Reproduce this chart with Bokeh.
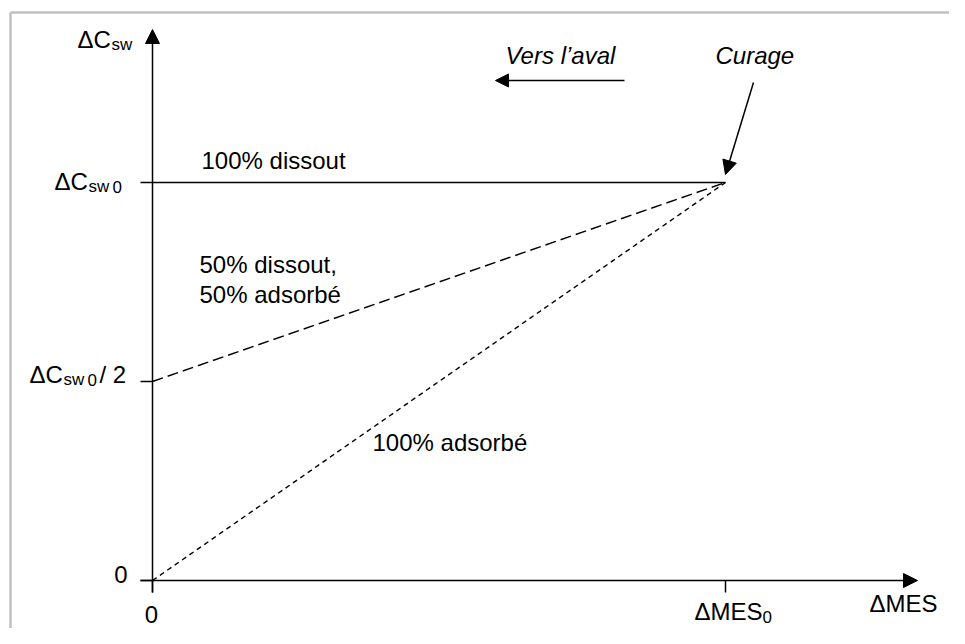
from bokeh.plotting import figure
from bokeh.models import Arrow, NormalHead, Range1d
from bokeh.core.properties import value
from bokeh.embed import file_html
from bokeh.resources import INLINE

# ---- data (normalised: ΔMES0 = 1, ΔCsw0 = 1) ----
mes = [0.0, 1.0]
c_dissout = [1.0, 1.0]        # 100% dissout
c_mixed = [0.5, 1.0]          # 50% dissout, 50% adsorbé
c_adsorbe = [0.0, 1.0]        # 100% adsorbé
y_ticks = [0.0, 0.5, 1.0]
x_ticks = [0.0, 1.0]

FONT = "Liberation Sans"
MAIN = "24px"
SUB = "17px"
TEXT_SHIFT = 9  # renderer places alphabetic baseline lower; compensate

# pixel -> data coordinate helpers (layout only)
X0, XS, Y0, YS = 152.0, 573.0, 580.0, 398.0
def dx(px):
    return (px - X0) / XS
def dy(py):
    return (Y0 - py) / YS

W, H = 949, 628
p = figure(width=W, height=H, output_backend="svg", toolbar_location=None,
           x_range=Range1d(dx(0), dx(W)), y_range=Range1d(dy(H), dy(0)),
           min_border=0, min_border_left=0, min_border_right=0,
           min_border_top=0, min_border_bottom=0)
p.axis.visible = False
p.grid.visible = False
p.outline_line_color = None
p.background_fill_color = "white"
p.border_fill_color = "white"

# frame border (top and left visible)
p.segment(x0=[dx(10), dx(10)], y0=[dy(12), dy(12)], x1=[dx(980), dx(10)], y1=[dy(12), dy(660)],
          line_color="#c0c0c0", line_width=2.5)

# data lines
p.line(mes, c_dissout, line_color="black", line_width=1.5)
p.line(mes, c_mixed, line_color="black", line_width=1.4, line_dash="11 5")
p.line(mes, c_adsorbe, line_color="black", line_width=1.4, line_dash="5 4")

# axes with arrows
p.add_layout(Arrow(end=NormalHead(size=14, fill_color="black", line_color="black"),
                   x_start=dx(152), y_start=dy(592), x_end=dx(152), y_end=dy(29),
                   line_color="black", line_width=1.5))
p.add_layout(Arrow(end=NormalHead(size=14, fill_color="black", line_color="black"),
                   x_start=dx(140), y_start=0.0, x_end=dx(917), y_end=0.0,
                   line_color="black", line_width=1.5))

# ticks
tlx = 12.0 / XS
tly = 12.0 / YS
p.segment(x0=[-tlx] * len(y_ticks), y0=y_ticks, x1=[0.0] * len(y_ticks), y1=y_ticks,
          line_color="black", line_width=1.5)
p.segment(x0=x_ticks, y0=[0.0] * len(x_ticks), x1=x_ticks, y1=[-tly] * len(x_ticks),
          line_color="black", line_width=1.5)

# annotation arrows
p.add_layout(Arrow(end=NormalHead(size=13, fill_color="black", line_color="black"),
                   x_start=dx(624), y_start=dy(80), x_end=dx(495), y_end=dy(80),
                   line_color="black", line_width=1.5))
p.add_layout(Arrow(end=NormalHead(size=14, fill_color="black", line_color="black"),
                   x_start=dx(753), y_start=dy(82), x_end=dx(725), y_end=dy(174),
                   line_color="black", line_width=1.5))

def txt(px, py, s, size=MAIN, style="normal", align="left"):
    p.text(x=[dx(px)], y=[dy(py - TEXT_SHIFT)], text=[s], text_font=value(FONT),
           text_font_size=size, text_font_style=style, text_color="black",
           text_align=align, text_baseline="alphabetic")

# y-axis title
txt(77, 48, "ΔC")
txt(111, 53, "sw", SUB)
# y tick labels
txt(54, 190, "ΔC")
txt(88, 195, "sw", SUB)
txt(112, 195, "0", SUB)
txt(29, 383, "ΔC")
txt(63, 388, "sw", SUB)
txt(87, 388, "0", SUB)
txt(99, 383, "/ 2")
txt(127, 583, "0", align="right")
# x tick labels
txt(151, 623, "0", align="center")
txt(694, 620, "ΔMES")
txt(762, 625, "0", SUB)
txt(869, 612, "ΔMES")

# curve labels
txt(201, 169, "100% dissout")
txt(199, 273, "50% dissout,")
txt(199, 303, "50% adsorbé")
txt(372, 451, "100% adsorbé")
txt(505, 64, "Vers l’aval", style="italic")
txt(715, 64, "Curage", style="italic")

open("out.html", "w").write(file_html(p, INLINE))
